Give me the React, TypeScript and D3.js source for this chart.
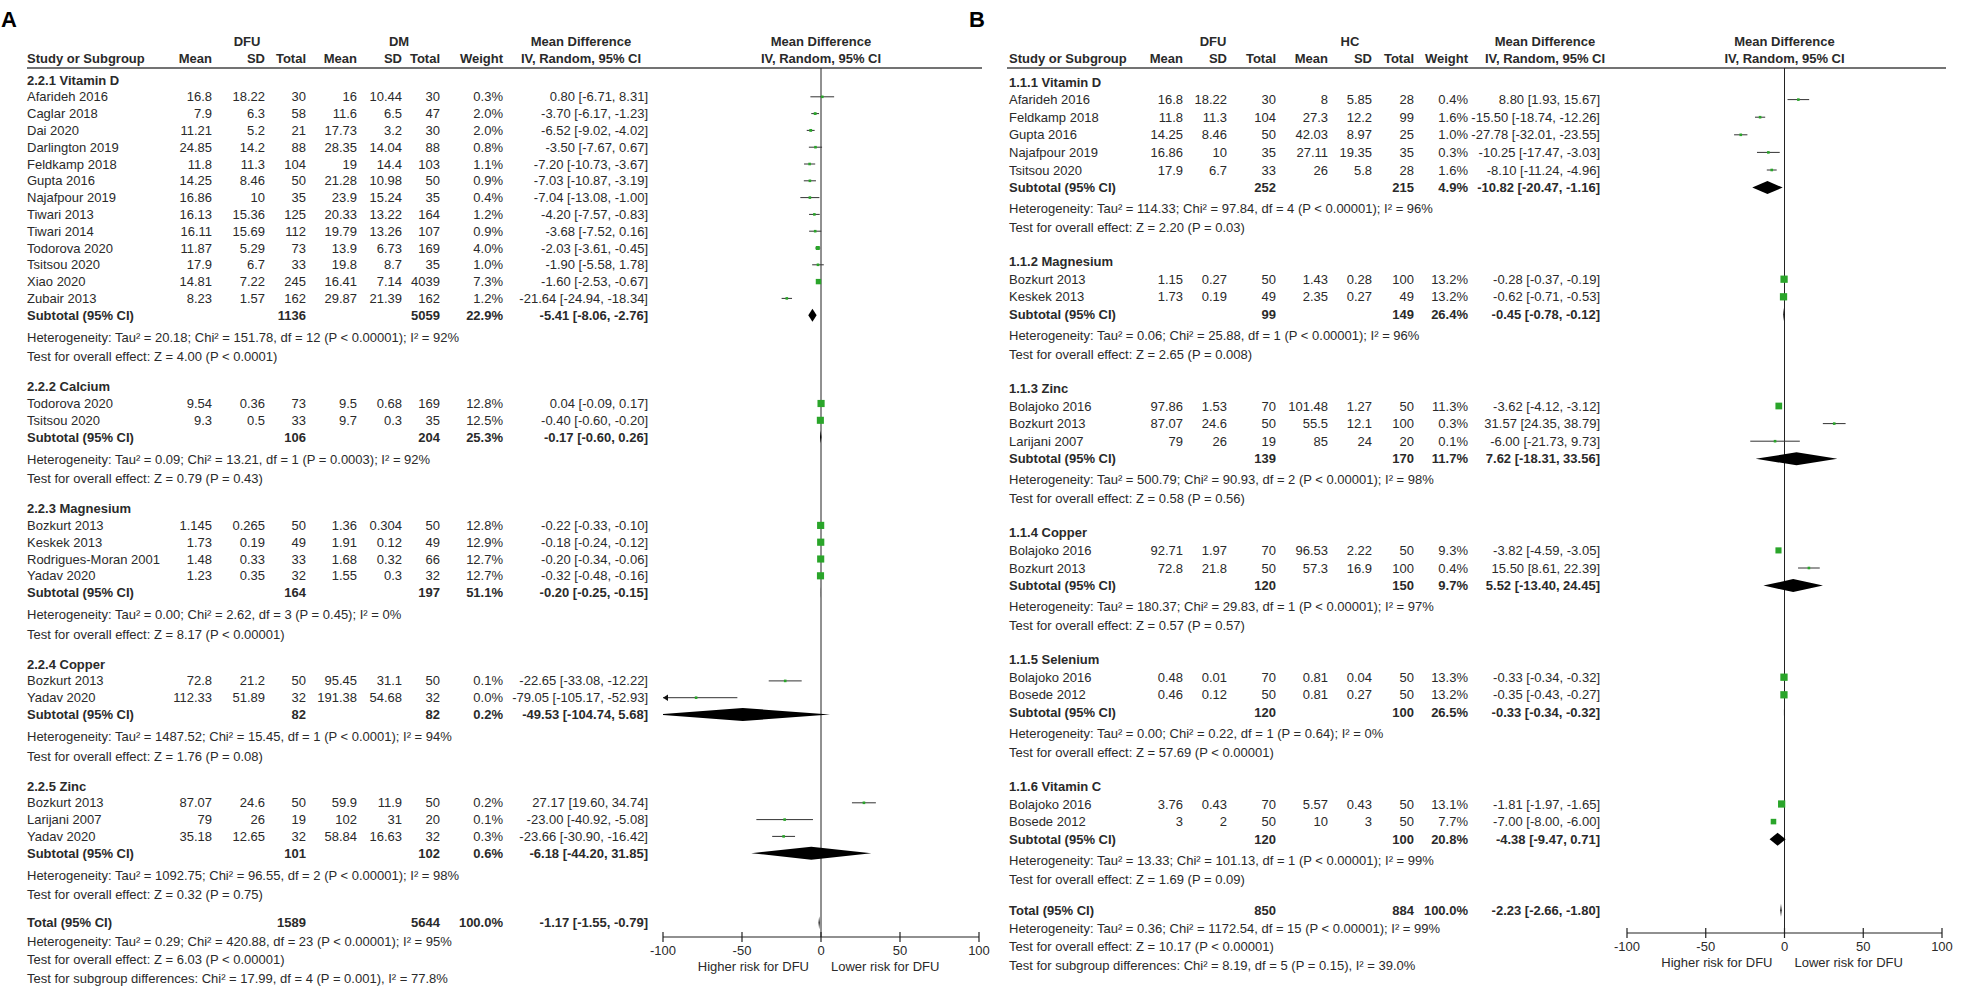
import { useEffect, useRef } from "react";
import * as d3 from "d3";

// study row: name, mean1, sd1, n1, mean2, sd2, n2, weight %, MD, lower, upper
type Study = [string, number, number, number, number, number, number, number, number, number, number];
// subtotal: n1, n2, weight %, MD, lower, upper
type Sub = [number, number, number, number, number, number];

// ---------- Panel A: DFU vs DM ----------
const vitaminDA: Study[] = [
  ["Afarideh 2016", 16.8, 18.22, 30, 16, 10.44, 30, 0.3, 0.8, -6.71, 8.31],
  ["Caglar 2018", 7.9, 6.3, 58, 11.6, 6.5, 47, 2.0, -3.7, -6.17, -1.23],
  ["Dai 2020", 11.21, 5.2, 21, 17.73, 3.2, 30, 2.0, -6.52, -9.02, -4.02],
  ["Darlington 2019", 24.85, 14.2, 88, 28.35, 14.04, 88, 0.8, -3.5, -7.67, 0.67],
  ["Feldkamp 2018", 11.8, 11.3, 104, 19, 14.4, 103, 1.1, -7.2, -10.73, -3.67],
  ["Gupta 2016", 14.25, 8.46, 50, 21.28, 10.98, 50, 0.9, -7.03, -10.87, -3.19],
  ["Najafpour 2019", 16.86, 10, 35, 23.9, 15.24, 35, 0.4, -7.04, -13.08, -1.0],
  ["Tiwari 2013", 16.13, 15.36, 125, 20.33, 13.22, 164, 1.2, -4.2, -7.57, -0.83],
  ["Tiwari 2014", 16.11, 15.69, 112, 19.79, 13.26, 107, 0.9, -3.68, -7.52, 0.16],
  ["Todorova 2020", 11.87, 5.29, 73, 13.9, 6.73, 169, 4.0, -2.03, -3.61, -0.45],
  ["Tsitsou 2020", 17.9, 6.7, 33, 19.8, 8.7, 35, 1.0, -1.9, -5.58, 1.78],
  ["Xiao 2020", 14.81, 7.22, 245, 16.41, 7.14, 4039, 7.3, -1.6, -2.53, -0.67],
  ["Zubair 2013", 8.23, 1.57, 162, 29.87, 21.39, 162, 1.2, -21.64, -24.94, -18.34],
];
const calciumA: Study[] = [
  ["Todorova 2020", 9.54, 0.36, 73, 9.5, 0.68, 169, 12.8, 0.04, -0.09, 0.17],
  ["Tsitsou 2020", 9.3, 0.5, 33, 9.7, 0.3, 35, 12.5, -0.4, -0.6, -0.2],
];
const magnesiumA: Study[] = [
  ["Bozkurt 2013", 1.145, 0.265, 50, 1.36, 0.304, 50, 12.8, -0.22, -0.33, -0.1],
  ["Keskek 2013", 1.73, 0.19, 49, 1.91, 0.12, 49, 12.9, -0.18, -0.24, -0.12],
  ["Rodrigues-Moran 2001", 1.48, 0.33, 33, 1.68, 0.32, 66, 12.7, -0.2, -0.34, -0.06],
  ["Yadav 2020", 1.23, 0.35, 32, 1.55, 0.3, 32, 12.7, -0.32, -0.48, -0.16],
];
const copperA: Study[] = [
  ["Bozkurt 2013", 72.8, 21.2, 50, 95.45, 31.1, 50, 0.1, -22.65, -33.08, -12.22],
  ["Yadav 2020", 112.33, 51.89, 32, 191.38, 54.68, 32, 0.0, -79.05, -105.17, -52.93],
];
const zincA: Study[] = [
  ["Bozkurt 2013", 87.07, 24.6, 50, 59.9, 11.9, 50, 0.2, 27.17, 19.6, 34.74],
  ["Larijani 2007", 79, 26, 19, 102, 31, 20, 0.1, -23.0, -40.92, -5.08],
  ["Yadav 2020", 35.18, 12.65, 32, 58.84, 16.63, 32, 0.3, -23.66, -30.9, -16.42],
];
const groupNamesA = ["2.2.1 Vitamin D", "2.2.2 Calcium", "2.2.3 Magnesium", "2.2.4 Copper", "2.2.5 Zinc"];
const subtotalsA: Sub[] = [
  [1136, 5059, 22.9, -5.41, -8.06, -2.76],
  [106, 204, 25.3, -0.17, -0.6, 0.26],
  [164, 197, 51.1, -0.2, -0.25, -0.15],
  [82, 82, 0.2, -49.53, -104.74, 5.68],
  [101, 102, 0.6, -6.18, -44.2, 31.85],
];
const hetA = [
  "Heterogeneity: Tau² = 20.18; Chi² = 151.78, df = 12 (P < 0.00001); I² = 92%",
  "Heterogeneity: Tau² = 0.09; Chi² = 13.21, df = 1 (P = 0.0003); I² = 92%",
  "Heterogeneity: Tau² = 0.00; Chi² = 2.62, df = 3 (P = 0.45); I² = 0%",
  "Heterogeneity: Tau² = 1487.52; Chi² = 15.45, df = 1 (P < 0.0001); I² = 94%",
  "Heterogeneity: Tau² = 1092.75; Chi² = 96.55, df = 2 (P < 0.00001); I² = 98%",
];
const effectA = [
  "Test for overall effect: Z = 4.00 (P < 0.0001)",
  "Test for overall effect: Z = 0.79 (P = 0.43)",
  "Test for overall effect: Z = 8.17 (P < 0.00001)",
  "Test for overall effect: Z = 1.76 (P = 0.08)",
  "Test for overall effect: Z = 0.32 (P = 0.75)",
];
const totalA: Sub = [1589, 5644, 100.0, -1.17, -1.55, -0.79];
const totalNotesA = [
  "Heterogeneity: Tau² = 0.29; Chi² = 420.88, df = 23 (P < 0.00001); I² = 95%",
  "Test for overall effect: Z = 6.03 (P < 0.00001)",
  "Test for subgroup differences: Chi² = 17.99, df = 4 (P = 0.001), I² = 77.8%",
];

// ---------- Panel B: DFU vs HC ----------
const vitaminDB: Study[] = [
  ["Afarideh 2016", 16.8, 18.22, 30, 8, 5.85, 28, 0.4, 8.8, 1.93, 15.67],
  ["Feldkamp 2018", 11.8, 11.3, 104, 27.3, 12.2, 99, 1.6, -15.5, -18.74, -12.26],
  ["Gupta 2016", 14.25, 8.46, 50, 42.03, 8.97, 25, 1.0, -27.78, -32.01, -23.55],
  ["Najafpour 2019", 16.86, 10, 35, 27.11, 19.35, 35, 0.3, -10.25, -17.47, -3.03],
  ["Tsitsou 2020", 17.9, 6.7, 33, 26, 5.8, 28, 1.6, -8.1, -11.24, -4.96],
];
const magnesiumB: Study[] = [
  ["Bozkurt 2013", 1.15, 0.27, 50, 1.43, 0.28, 100, 13.2, -0.28, -0.37, -0.19],
  ["Keskek 2013", 1.73, 0.19, 49, 2.35, 0.27, 49, 13.2, -0.62, -0.71, -0.53],
];
const zincB: Study[] = [
  ["Bolajoko 2016", 97.86, 1.53, 70, 101.48, 1.27, 50, 11.3, -3.62, -4.12, -3.12],
  ["Bozkurt 2013", 87.07, 24.6, 50, 55.5, 12.1, 100, 0.3, 31.57, 24.35, 38.79],
  ["Larijani 2007", 79, 26, 19, 85, 24, 20, 0.1, -6.0, -21.73, 9.73],
];
const copperB: Study[] = [
  ["Bolajoko 2016", 92.71, 1.97, 70, 96.53, 2.22, 50, 9.3, -3.82, -4.59, -3.05],
  ["Bozkurt 2013", 72.8, 21.8, 50, 57.3, 16.9, 100, 0.4, 15.5, 8.61, 22.39],
];
const seleniumB: Study[] = [
  ["Bolajoko 2016", 0.48, 0.01, 70, 0.81, 0.04, 50, 13.3, -0.33, -0.34, -0.32],
  ["Bosede 2012", 0.46, 0.12, 50, 0.81, 0.27, 50, 13.2, -0.35, -0.43, -0.27],
];
const vitaminCB: Study[] = [
  ["Bolajoko 2016", 3.76, 0.43, 70, 5.57, 0.43, 50, 13.1, -1.81, -1.97, -1.65],
  ["Bosede 2012", 3, 2, 50, 10, 3, 50, 7.7, -7.0, -8.0, -6.0],
];
const groupNamesB = ["1.1.1 Vitamin D", "1.1.2 Magnesium", "1.1.3 Zinc", "1.1.4 Copper", "1.1.5 Selenium", "1.1.6 Vitamin C"];
const subtotalsB: Sub[] = [
  [252, 215, 4.9, -10.82, -20.47, -1.16],
  [99, 149, 26.4, -0.45, -0.78, -0.12],
  [139, 170, 11.7, 7.62, -18.31, 33.56],
  [120, 150, 9.7, 5.52, -13.4, 24.45],
  [120, 100, 26.5, -0.33, -0.34, -0.32],
  [120, 100, 20.8, -4.38, -9.47, 0.71],
];
const hetB = [
  "Heterogeneity: Tau² = 114.33; Chi² = 97.84, df = 4 (P < 0.00001); I² = 96%",
  "Heterogeneity: Tau² = 0.06; Chi² = 25.88, df = 1 (P < 0.00001); I² = 96%",
  "Heterogeneity: Tau² = 500.79; Chi² = 90.93, df = 2 (P < 0.00001); I² = 98%",
  "Heterogeneity: Tau² = 180.37; Chi² = 29.83, df = 1 (P < 0.00001); I² = 97%",
  "Heterogeneity: Tau² = 0.00; Chi² = 0.22, df = 1 (P = 0.64); I² = 0%",
  "Heterogeneity: Tau² = 13.33; Chi² = 101.13, df = 1 (P < 0.00001); I² = 99%",
];
const effectB = [
  "Test for overall effect: Z = 2.20 (P = 0.03)",
  "Test for overall effect: Z = 2.65 (P = 0.008)",
  "Test for overall effect: Z = 0.58 (P = 0.56)",
  "Test for overall effect: Z = 0.57 (P = 0.57)",
  "Test for overall effect: Z = 57.69 (P < 0.00001)",
  "Test for overall effect: Z = 1.69 (P = 0.09)",
];
const totalB: Sub = [850, 884, 100.0, -2.23, -2.66, -1.8];
const totalNotesB = [
  "Heterogeneity: Tau² = 0.36; Chi² = 1172.54, df = 15 (P < 0.00001); I² = 99%",
  "Test for overall effect: Z = 10.17 (P < 0.00001)",
  "Test for subgroup differences: Chi² = 8.19, df = 5 (P = 0.15), I² = 39.0%",
];

const axisTicks = [-100, -50, 0, 50, 100];
const colHeaders = ["Mean", "SD", "Total", "Mean", "SD", "Total", "Weight"];

const FONT = "'Liberation Sans', Arial, Helvetica, sans-serif";
const TXT = "#2a2a2a";
const GREEN = "#2aa52a";

interface Layout {
  label: string;
  labelX: number;
  x0: number;
  cols: number[]; // right edges: mean1, sd1, n1, mean2, sd2, n2, weight, CI
  grp1X: number;
  grp2X: number;
  grp2: string;
  ciHeadX: number;
  plot: [number, number];
  lineX: [number, number];
  y0: number;
  s: number;
  h1: number;
  h2: number;
  gap: number;
  gT: number;
  hT: number;
  axisY: number;
}

const layoutA: Layout = {
  label: "A", labelX: 1, x0: 27,
  cols: [212, 265, 306, 357, 402, 440, 503, 648],
  grp1X: 247, grp2X: 399, grp2: "DM", ciHeadX: 581,
  plot: [663, 979], lineX: [27, 982],
  y0: 80, s: 16.8, h1: 22, h2: 19.5, gap: 30, gT: 28, hT: 18.5, axisY: 937,
};
const layoutB: Layout = {
  label: "B", labelX: 969, x0: 1009,
  cols: [1183, 1227, 1276, 1328, 1372, 1414, 1468, 1600],
  grp1X: 1213, grp2X: 1350, grp2: "HC", ciHeadX: 1545,
  plot: [1627, 1942], lineX: [1007, 1946],
  y0: 82, s: 17.6, h1: 21, h2: 19, gap: 34, gT: 31, hT: 18.3, axisY: 933,
};

const ciText = (md: number, lo: number, hi: number) =>
  `${md.toFixed(2)} [${lo.toFixed(2)}, ${hi.toFixed(2)}]`;

function drawPanel(
  svg: d3.Selection<SVGSVGElement, unknown, null, undefined>,
  L: Layout,
  groups: Study[][],
  names: string[],
  subs: Sub[],
  het: string[],
  eff: string[],
  total: Sub,
  notes: string[],
) {
  const g = svg.append("g").attr("font-family", FONT).attr("font-size", 13).attr("fill", TXT);
  const x = d3.scaleLinear().domain([-100, 100]).range(L.plot);
  const clipId = `clip-${L.label}`;
  svg.append("defs").append("clipPath").attr("id", clipId)
    .append("rect").attr("x", L.plot[0]).attr("y", 0).attr("width", L.plot[1] - L.plot[0]).attr("height", 988);

  const text = (tx: number, ty: number, s: string, anchor = "start", bold = false) =>
    g.append("text").attr("x", tx).attr("y", ty + 4.5).attr("text-anchor", anchor)
      .attr("font-weight", bold ? "bold" : "normal").text(s);

  // panel letter
  g.append("text").attr("x", L.labelX).attr("y", 27).attr("font-size", 22).attr("font-weight", "bold")
    .attr("fill", "#000").text(L.label);

  // headers
  const hb1 = 41.5, hb2 = 58.5;
  text(L.grp1X, hb1, "DFU", "middle", true);
  text(L.grp2X, hb1, L.grp2, "middle", true);
  text(L.ciHeadX, hb1, "Mean Difference", "middle", true);
  text(L.ciHeadX, hb2, "IV, Random, 95% CI", "middle", true);
  text(x(0), hb1, "Mean Difference", "middle", true);
  text(x(0), hb2, "IV, Random, 95% CI", "middle", true);
  text(L.x0, hb2, "Study or Subgroup", "start", true);
  colHeaders.forEach((h, i) => text(L.cols[i], hb2, h, "end", true));
  const lineY = 68;
  g.append("line").attr("x1", L.lineX[0]).attr("x2", L.lineX[1]).attr("y1", lineY).attr("y2", lineY)
    .attr("stroke", "#444").attr("stroke-width", 1.6);

  // zero line
  g.append("line").attr("x1", x(0)).attr("x2", x(0)).attr("y1", lineY).attr("y2", L.axisY)
    .attr("stroke", "#222").attr("stroke-width", 1);

  const plotG = g.append("g").attr("clip-path", `url(#${clipId})`);

  const diamond = (yy: number, sub: Sub) => {
    const [, , , md, lo, hi] = sub;
    const hh = 6.5;
    plotG.append("path")
      .attr("d", `M${x(lo)},${yy}L${x(md)},${yy - hh}L${x(hi)},${yy}L${x(md)},${yy + hh}Z`)
      .attr("fill", "#000");
  };

  const sumRow = (yy: number, label: string, sub: Sub) => {
    const [n1, n2, w, md, lo, hi] = sub;
    text(L.x0, yy, label, "start", true);
    text(L.cols[2], yy, String(n1), "end", true);
    text(L.cols[5], yy, String(n2), "end", true);
    text(L.cols[6], yy, `${w.toFixed(1)}%`, "end", true);
    text(L.cols[7], yy, ciText(md, lo, hi), "end", true);
    diamond(yy, sub);
  };

  let y = L.y0;
  groups.forEach((studies, gi) => {
    if (gi > 0) y += L.gap;
    text(L.x0, y, names[gi], "start", true);
    studies.forEach((st) => {
      y += L.s;
      const [name, m1, s1, n1, m2, s2, n2, w, md, lo, hi] = st;
      text(L.x0, y, name);
      [m1, s1, n1, m2, s2, n2].forEach((v, i) => text(L.cols[i], y, String(v), "end"));
      text(L.cols[6], y, `${w.toFixed(1)}%`, "end");
      text(L.cols[7], y, ciText(md, lo, hi), "end");
      // CI line
      const a = Math.max(lo, -100), b = Math.min(hi, 100);
      g.append("line").attr("x1", x(a)).attr("x2", x(b)).attr("y1", y).attr("y2", y)
        .attr("stroke", "#333").attr("stroke-width", 1);
      if (lo < -100) {
        g.append("path").attr("d", `M${x(-100)},${y}l5,-3.2v6.4Z`).attr("fill", "#111");
      }
      if (hi > 100) {
        g.append("path").attr("d", `M${x(100)},${y}l-5,-3.2v6.4Z`).attr("fill", "#111");
      }
      const side = Math.max(2.6, 2 * Math.sqrt(w));
      g.append("rect").attr("x", x(md) - side / 2).attr("y", y - side / 2)
        .attr("width", side).attr("height", side).attr("fill", GREEN);
    });
    y += L.s;
    sumRow(y, "Subtotal (95% CI)", subs[gi]);
    y += L.h1;
    text(L.x0, y, het[gi]);
    y += L.h2;
    text(L.x0, y, eff[gi]);
  });
  y += L.gT;
  sumRow(y, "Total (95% CI)", total);
  notes.forEach((n) => {
    y += L.hT;
    text(L.x0, y, n);
  });

  // axis
  const ax = g.append("g");
  ax.append("line").attr("x1", x(-100)).attr("x2", x(100)).attr("y1", L.axisY).attr("y2", L.axisY)
    .attr("stroke", "#222").attr("stroke-width", 1.2);
  axisTicks.forEach((t) => {
    ax.append("line").attr("x1", x(t)).attr("x2", x(t)).attr("y1", L.axisY - 5).attr("y2", L.axisY + 5)
      .attr("stroke", "#222").attr("stroke-width", 1.2);
    text(x(t), L.axisY + 13, String(t), "middle");
  });
  text(x(0) - 12, L.axisY + 29, "Higher risk for DFU", "end");
  text(x(0) + 10, L.axisY + 29, "Lower risk for DFU", "start");
}

const App = () => {
  const svgRef = useRef<SVGSVGElement>(null);

  useEffect(() => {
    if (!svgRef.current) return;
    const svg = d3.select(svgRef.current);
    svg.selectAll("*").remove();
    drawPanel(svg, layoutA, [vitaminDA, calciumA, magnesiumA, copperA, zincA],
      groupNamesA, subtotalsA, hetA, effectA, totalA, totalNotesA);
    drawPanel(svg, layoutB, [vitaminDB, magnesiumB, zincB, copperB, seleniumB, vitaminCB],
      groupNamesB, subtotalsB, hetB, effectB, totalB, totalNotesB);
  }, []);

  return (
    <svg
      ref={svgRef}
      width={1969}
      height={988}
      style={{ position: "absolute", left: 0, top: 0, background: "#fff" }}
    />
  );
};

export default App;
